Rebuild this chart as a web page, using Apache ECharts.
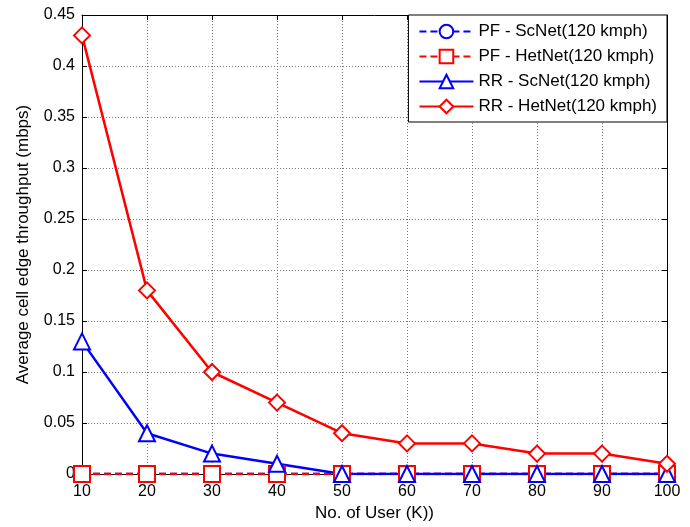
<!DOCTYPE html>
<html lang="en">
<head>
    <meta charset="UTF-8">
    <title>cell edge throughput</title>
    <script src="https://cdn.jsdelivr.net/npm/echarts@6/dist/echarts.min.js"></script>
    <style>
        body{ margin: 0; background: #fff; }
        #chart{ width: 690px; height: 527px; }
    </style>
</head>
<body>
    <div id="chart"></div>
    <script>
        var users = [10, 20, 30, 40, 50, 60, 70, 80, 90, 100];
        var pfScNet = [0, 0, 0, 0, 0, 0, 0, 0, 0, 0];
        var pfHetNet = [0, 0, 0, 0, 0, 0, 0, 0, 0, 0];
        var rrScNet = [0.13, 0.04, 0.02, 0.01, 0, 0, 0, 0, 0, 0];
        var rrHetNet = [0.43, 0.18, 0.10, 0.07, 0.04, 0.03, 0.03, 0.02, 0.02, 0.01];
        var names = ['PF - ScNet(120 kmph)', 'PF - HetNet(120 kmph)', 'RR - ScNet(120 kmph)', 'RR - HetNet(120 kmph)'];

        function pairs(ys){
            return users.map(function(x, i){ return [x, ys[i]]; });
        }
        function line(name, ys, color, symbol, dashed){
            return {
                name: name,
                type: 'line',
                data: pairs(ys),
                symbol: symbol,
                symbolSize: 16,
                showAllSymbol: true,
                color: color,
                lineStyle: { color: color, width: 2.5, type: dashed ? [7, 4] : 'solid' },
                itemStyle: { color: color, borderColor: color, borderWidth: 2.5 },
                animation: false
            };
        }

        var font = 'Liberation Sans, Arial, sans-serif';
        var chart = echarts.init(document.getElementById('chart'));
        chart.setOption({
            backgroundColor: '#fff',
            textStyle: { fontFamily: font },
            grid: { left: 82, right: 23, top: 15, bottom: 53 },
            legend: {
                data: names,
                orient: 'vertical',
                right: 23,
                top: 15,
                backgroundColor: '#fff',
                borderColor: '#000',
                borderWidth: 1,
                borderRadius: 0,
                padding: [8, 10, 7, 10],
                itemGap: 8,
                itemWidth: 54,
                itemHeight: 17,
                textStyle: { fontFamily: font, fontSize: 17, color: '#000' }
            },
            xAxis: [{
                type: 'value', min: 10, max: 100, interval: 10,
                name: 'No. of User (K))', nameLocation: 'middle', nameGap: 31,
                nameTextStyle: { fontSize: 17, color: '#000' },
                axisLine: { lineStyle: { color: '#000' } },
                axisTick: { inside: true, length: 5, lineStyle: { color: '#000' } },
                axisLabel: { fontSize: 16, color: '#000', margin: 10 },
                splitLine: { show: true, lineStyle: { color: '#777', type: [1, 2] } }
            }, {
                type: 'value', position: 'top', min: 10, max: 100, interval: 10,
                axisLine: { show: true, onZero: false, lineStyle: { color: '#000' } },
                axisTick: { inside: true, length: 5, lineStyle: { color: '#000' } },
                axisLabel: { show: false }, splitLine: { show: false }
            }],
            yAxis: [{
                type: 'value', min: 0, max: 0.45, interval: 0.05,
                name: 'Average cell edge throughput (mbps)', nameLocation: 'middle', nameGap: 50,
                nameTextStyle: { fontSize: 17, color: '#000' },
                axisLine: { show: true, lineStyle: { color: '#000' } },
                axisTick: { show: true, inside: true, length: 5, lineStyle: { color: '#000' } },
                axisLabel: { fontSize: 16, color: '#000', margin: 7 },
                splitLine: { show: true, lineStyle: { color: '#777', type: [1, 2] } }
            }, {
                type: 'value', position: 'right', min: 0, max: 0.45, interval: 0.05,
                axisLine: { show: true, onZero: false, lineStyle: { color: '#000' } },
                axisTick: { show: true, inside: true, length: 5, lineStyle: { color: '#000' } },
                axisLabel: { show: false }, splitLine: { show: false }
            }],
            series: [
                line(names[0], pfScNet, '#0000ff', 'emptyCircle', true),
                line(names[1], pfHetNet, '#ff0000', 'emptyRect', true),
                line(names[2], rrScNet, '#0000ff', 'emptyTriangle', false),
                line(names[3], rrHetNet, '#ff0000', 'emptyDiamond', false)
            ]
        });
    </script>
</body>
</html>
